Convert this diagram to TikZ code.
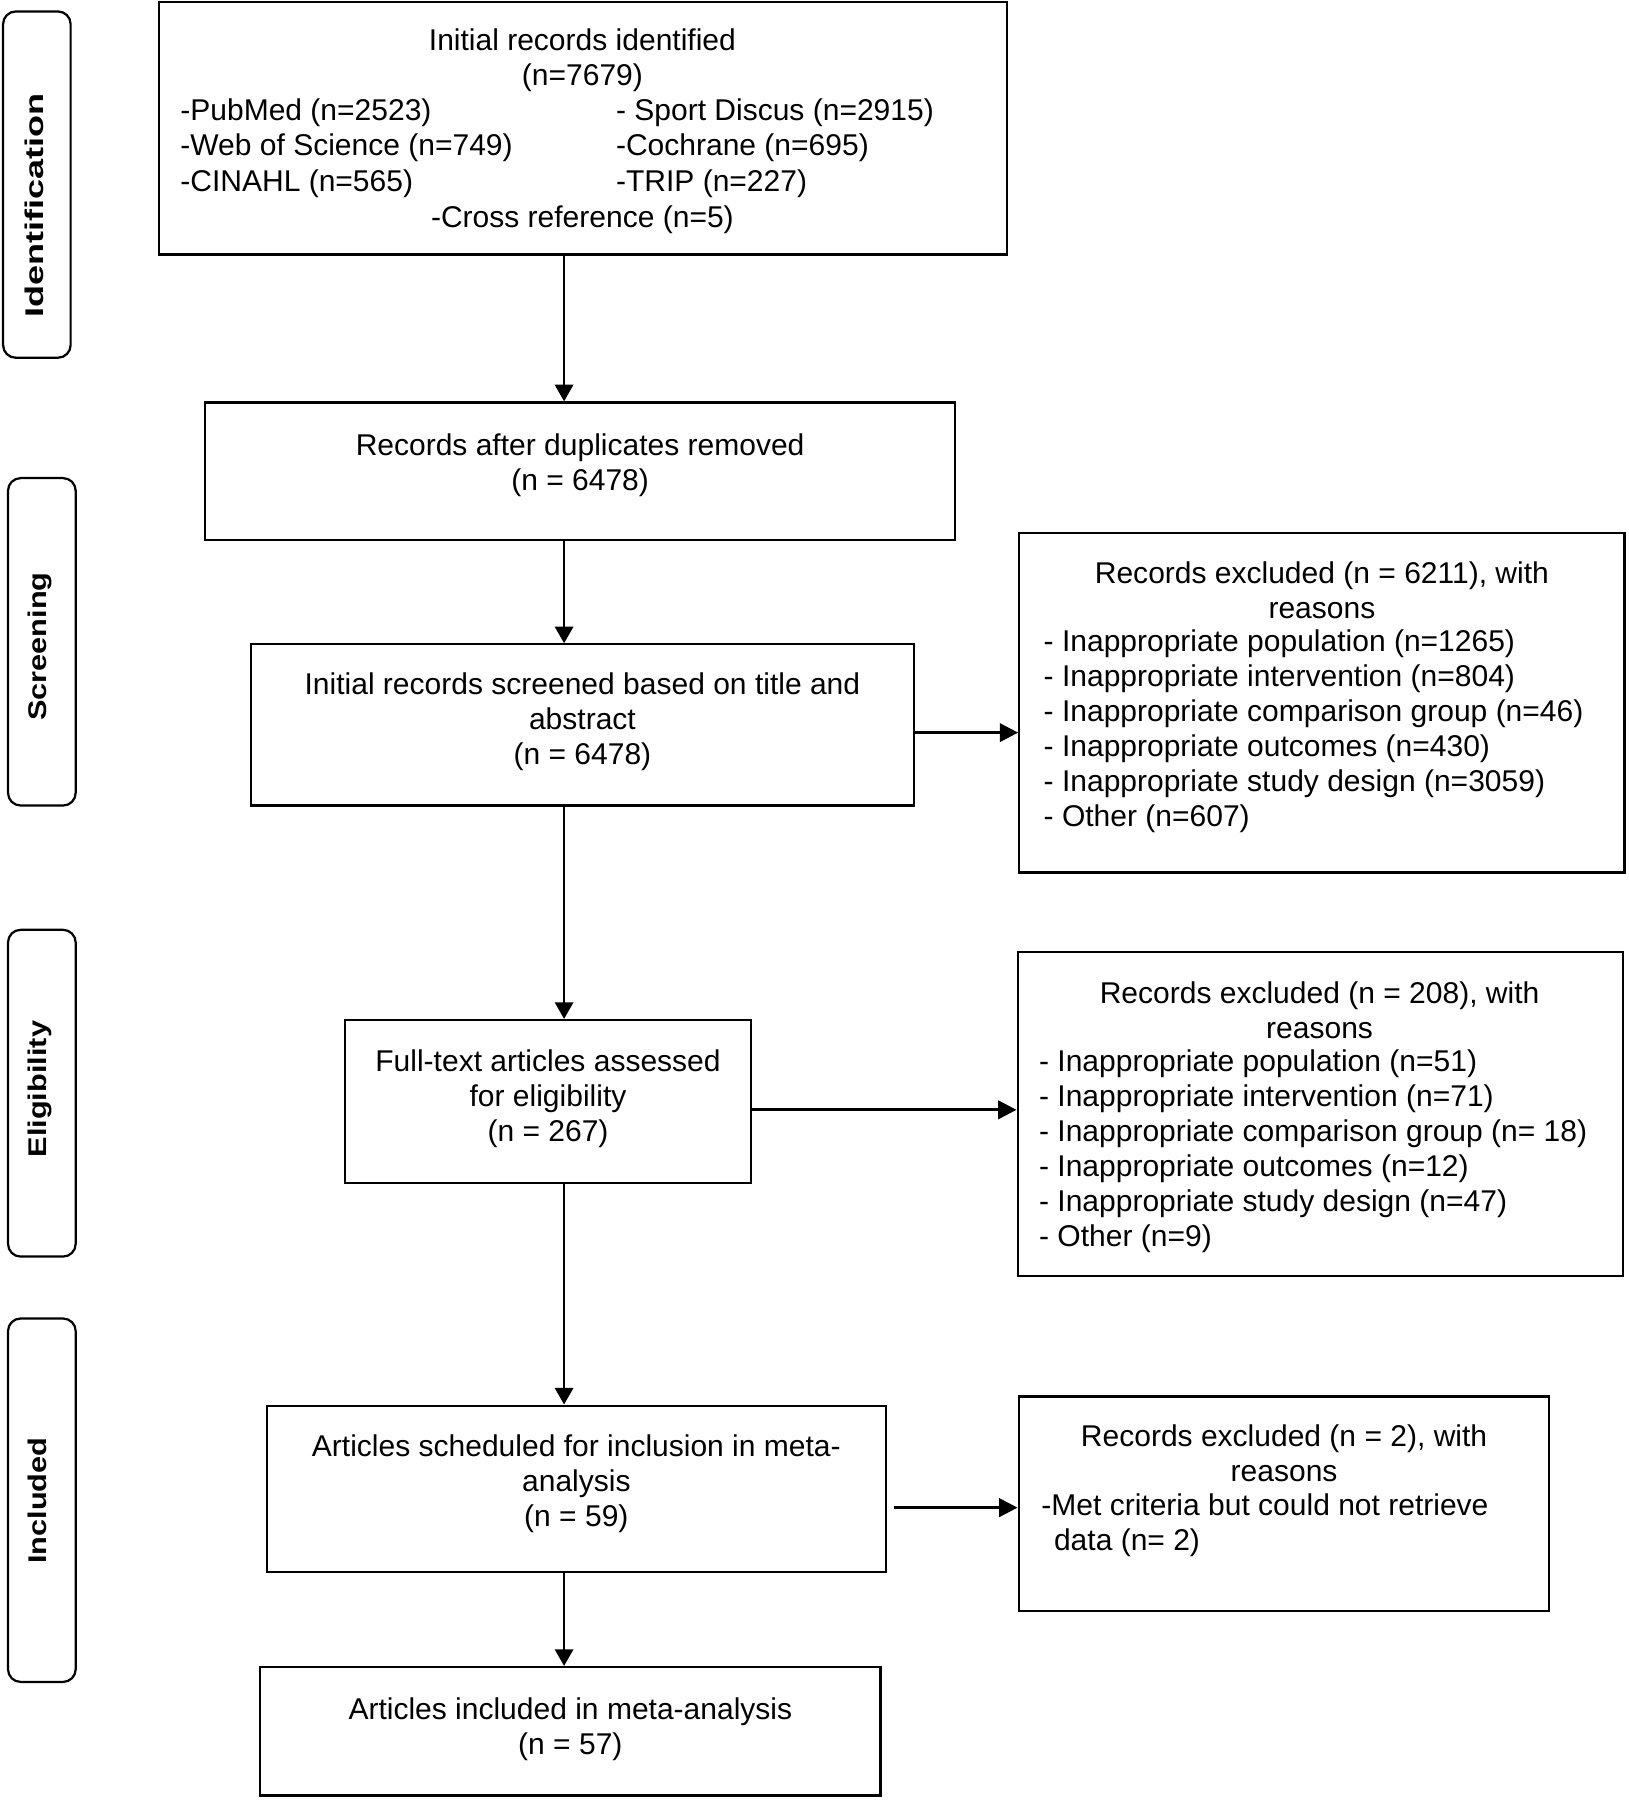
\documentclass[tikz,border=0pt]{standalone}
\usepackage{fontspec}
\setmainfont{Liberation Sans}
\newfontfamily\sidefont{Liberation Sans}[FakeStretch=1.2]
\newfontfamily\sidefontwide{Liberation Sans}[FakeStretch=1.41]
\usetikzlibrary{arrows.meta,fit}
\begin{document}
\begin{tikzpicture}[x=0.02cm,y=-0.02cm,
  box/.style={draw, line width=1.1pt, inner sep=0pt, rectangle},
  sidebox/.style={draw, line width=1.1pt, inner sep=0pt, rounded corners=0.22cm},
  txt/.style={inner sep=0pt, font=\fontsize{14.9}{17.4}\selectfont},
  sidetxt/.style={inner sep=0pt, rotate=90, anchor=base, font=\sidefont\bfseries\fontsize{12.7}{15}\selectfont},
  varr/.style={line width=1.1pt, -{Triangle[length=0.29cm,width=0.32cm]}},
  harr/.style={line width=1.4pt, -{Triangle[length=0.32cm,width=0.32cm]}}]
\useasboundingbox (0,0) rectangle (1420,1570);

% side labels
\node[sidebox, fit={(2.7,10) (61.6,312)}] (sb1) {};
\node[sidebox, fit={(7,417) (66,702.6)}] (sb2) {};
\node[sidebox, fit={(7,811) (66,1096)}] (sb3) {};
\node[sidebox, fit={(7,1150) (66,1467)}] (sb4) {};
\node[sidetxt, font=\sidefontwide\bfseries\fontsize{12.7}{15}\selectfont] (st1) at (37.8,179) {Identification};
\node[sidetxt] (st2) at (40.7,564) {Screening};
\node[sidetxt] (st3) at (40.7,950) {Eligibility};
\node[sidetxt] (st4) at (40.7,1309) {Included};

% main boxes
\node[box, fit={(138.6,1.5) (878,222)}] (b1) {};
\node[box, fit={(179,351) (833,471)}] (b2) {};
\node[box, fit={(219,562) (797,702.6)}] (b3) {};
\node[box, fit={(889,464.6) (1417,761)}] (b4) {};
\node[box, fit={(300.7,889.7) (655,1032)}] (b5) {};
\node[box, fit={(887.6,830) (1415.6,1113)}] (b6) {};
\node[box, fit={(232.8,1226) (772.6,1371)}] (b7) {};
\node[box, fit={(888.5,1218) (1351,1405)}] (b8) {};
\node[box, fit={(227,1454) (768,1566)}] (b9) {};

% texts (anchor=base is the baseline of the last line)
\node[txt, anchor=base, align=center] (t1a) at (508,74.8) {Initial records identified\\(n=7679)};
\node[txt, anchor=base west, align=left] (t1b) at (157,166.6) {-PubMed (n=2523)\\-Web of Science (n=749)\\-CINAHL (n=565)};
\node[txt, anchor=base west, align=left] (t1c) at (537,166.6) {- Sport Discus (n=2915)\\-Cochrane (n=695)\\-TRIP (n=227)};
\node[txt, anchor=base] (t1d) at (508,198) {-Cross reference (n=5)};

\node[txt, anchor=base, align=center] (t2) at (506,428) {Records after duplicates removed\\(n = 6478)};
\node[txt, anchor=base, align=center] (t3) at (508,666.5) {Initial records screened based on title and\\abstract\\(n = 6478)};

\node[txt, anchor=base, align=center] (t4a) at (1153,539.7) {Records excluded (n = 6211), with\\reasons};
\node[txt, anchor=base west, align=left] (t4b) at (910,721) {- Inappropriate population (n=1265)\\- Inappropriate intervention (n=804)\\- Inappropriate comparison group (n=46)\\- Inappropriate outcomes (n=430)\\- Inappropriate study design (n=3059)\\- Other (n=607)};

\node[txt, anchor=base, align=center] (t5) at (478,995.4) {Full-text articles assessed\\for eligibility\\(n = 267)};

\node[txt, anchor=base, align=center] (t6a) at (1151,905.9) {Records excluded (n = 208), with\\reasons};
\node[txt, anchor=base west, align=left] (t6b) at (906,1087.4) {- Inappropriate population (n=51)\\- Inappropriate intervention (n=71)\\- Inappropriate comparison group (n= 18)\\- Inappropriate outcomes (n=12)\\- Inappropriate study design (n=47)\\- Other (n=9)};

\node[txt, anchor=base, align=center] (t7) at (502.7,1331.7) {Articles scheduled for inclusion in meta-\\analysis\\(n = 59)};

\node[txt, anchor=base, align=center] (t8a) at (1120,1292.3) {Records excluded (n = 2), with\\reasons};
\node[txt, anchor=base west, align=left] (t8b) at (908,1352.7) {-Met criteria but could not retrieve\\\hspace*{0.22cm}data (n= 2)};

\node[txt, anchor=base, align=center] (t9) at (497.5,1530.3) {Articles included in meta-analysis\\(n = 57)};

% connectors
\coordinate (vx) at (492,0);
\draw[varr] (vx |- b1.south) -- (vx |- b2.north);
\draw[varr] (vx |- b2.south) -- (vx |- b3.north);
\draw[varr] (vx |- b3.south) -- (vx |- b5.north);
\draw[varr] (vx |- b5.south) -- (vx |- b7.north);
\draw[varr] (vx |- b7.south) -- (vx |- b9.north);

\coordinate (h1) at (0,639);
\coordinate (h2) at (0,968);
\coordinate (h3) at (0,1315);
\draw[harr] (b3.east |- h1) -- (b4.west |- h1);
\draw[harr] (b5.east |- h2) -- (b6.west |- h2);
\draw[harr, shorten <=0.12cm] (b7.east |- h3) -- (b8.west |- h3);
\end{tikzpicture}
\end{document}
